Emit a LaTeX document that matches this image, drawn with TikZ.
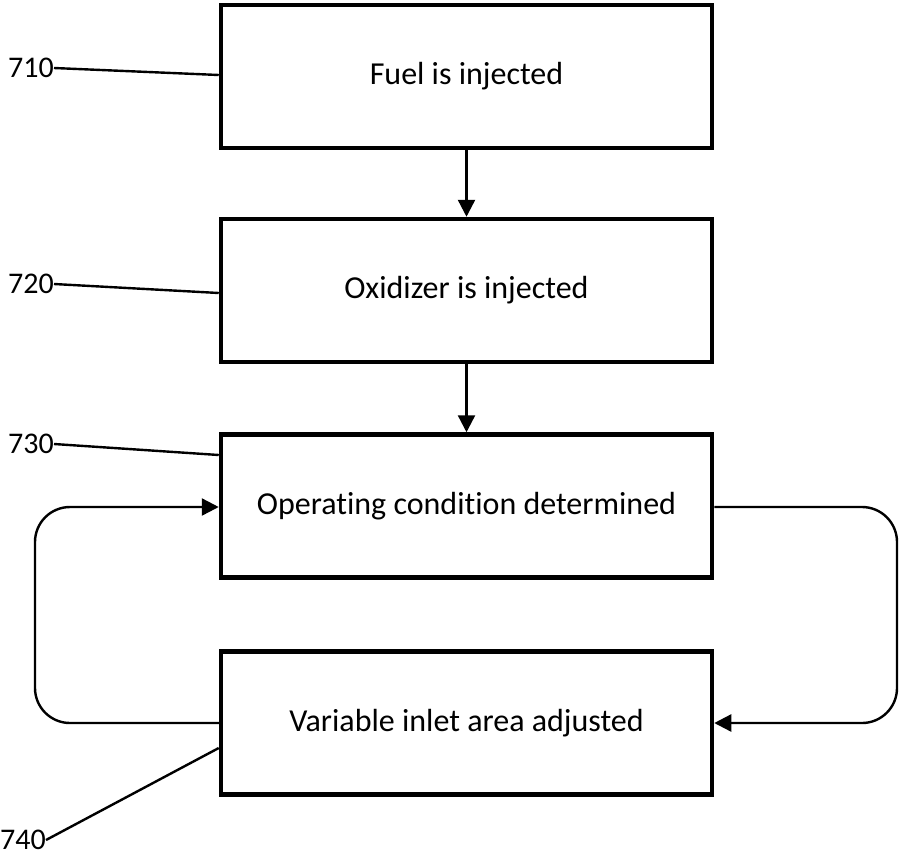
\documentclass[tikz,border=0pt]{standalone}
\usepackage{fontspec}
\setmainfont[Ligatures=NoCommon]{Carlito}
\usetikzlibrary{arrows.meta}

\tikzset{
	stepbox/.style={draw, line width=4.5pt, minimum width=491pt, minimum height=143pt, inner sep=0pt, font=\fontsize{32}{38}\selectfont},
	reflabel/.style={font=\fontsize{30}{36}\selectfont, inner sep=0pt},
	flow/.style={line width=2.4pt, -{Triangle[length=17pt, width=17pt]}},
	leader/.style={line width=2.4pt}
}

\begin{document}
\begin{tikzpicture}[x=1pt, y=-1pt]
	\useasboundingbox (0,0) rectangle (901,857);
	\node[stepbox] (fuel) at (466.5,76.5) {Fuel is injected};
	\node[stepbox] (oxid) at (466.5,290.5) {Oxidizer is injected};
	\node[stepbox] (cond) at (466.5,506) {Operating condition determined};
	\node[stepbox] (area) at (466.5,723) {Variable inlet area adjusted};
	\draw[flow] (fuel.south) -- (oxid.north);
	\draw[flow] (oxid.south) -- (cond.north);
	% feedback loop
	\draw[flow, rounded corners=35pt] (area.west) -- (35,723) -- (35,507) -- (cond.west |- 0,507);
	\draw[flow, rounded corners=35pt] (cond.east |- 0,507) -- (897,507) -- (897,723) -- (area.east);
	% reference numerals
	\node[reflabel] (r710) at (31,68) {710};
	\node[reflabel] (r720) at (31,284) {720};
	\node[reflabel] (r730) at (31,444) {730};
	\node[reflabel] (r740) at (23,840) {740};
	\draw[leader] (r710.east) -- (fuel.west |- 0,75);
	\draw[leader] (r720.east) -- (oxid.west |- 0,293);
	\draw[leader] (r730.east) -- (cond.west |- 0,455);
	\draw[leader] (r740.east) -- (area.west |- 0,748);
\end{tikzpicture}
\end{document}
